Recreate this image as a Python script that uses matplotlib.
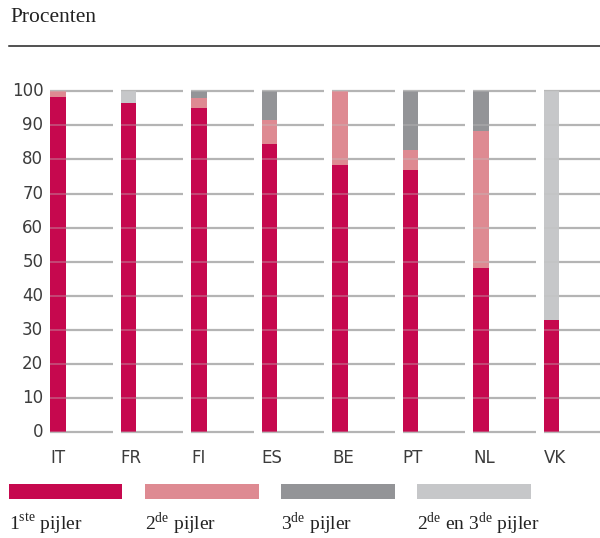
import matplotlib
matplotlib.use("Agg")
import matplotlib.pyplot as plt
from matplotlib.patches import Rectangle
import numpy as np

plt.rcParams['mathtext.fontset'] = 'custom'
plt.rcParams['mathtext.rm'] = 'Liberation Serif'

countries = ["IT", "FR", "FI", "ES", "BE", "PT", "NL", "VK"]
pijler1 = [98.3, 96.6, 95.1, 84.5, 78.3, 76.9, 48.1, 32.8]
pijler2 = [1.7, 0.0, 2.9, 7.1, 21.7, 5.8, 40.2, 0.0]
pijler3 = [0.0, 0.0, 2.0, 8.4, 0.0, 17.3, 11.7, 0.0]
pijler23 = [0.0, 3.4, 0.0, 0.0, 0.0, 0.0, 0.0, 67.2]
yticks = [0, 10, 20, 30, 40, 50, 60, 70, 80, 90, 100]

labels = ["1$^{\\rm ste}$ pijler", "2$^{\\rm de}$ pijler", "3$^{\\rm de}$ pijler",
          "2$^{\\rm de}$ en 3$^{\\rm de}$ pijler"]
colors = ["#c6084e", "#de8a92", "#939497", "#c6c7c9"]

fig = plt.figure(figsize=(6, 5.38), dpi=100)
ax = fig.add_axes([50.3 / 600, 106 / 538, 549.7 / 600, 340.7 / 538])

x = np.arange(len(countries))
w = 0.223
bottom = np.zeros(len(countries))
for vals, c in zip([pijler1, pijler2, pijler3, pijler23], colors):
    ax.bar(x, vals, width=w, bottom=bottom, align='edge', color=c, linewidth=0, zorder=2)
    bottom += np.array(vals)

# segmented gridlines, one piece per category; faint trace over the bars
for t in yticks:
    ax.hlines([t] * len(x), x, x + 0.89, color='#b4b4b4', linewidth=1.6,
              zorder=1, clip_on=False)
    ax.hlines([t] * len(x), x, x + w, color='#c0c0c0', alpha=0.35, linewidth=1.4,
              zorder=3, clip_on=False)

ax.set_xlim(0, 7.80)
ax.set_ylim(0, 100)
ax.axis('off')

for t in yticks:
    ax.text(-7 / 70.45, t, str(t), ha='right', va='center', fontsize=12,
            family='DejaVu Sans', color='#3c3c3c')
for i, c in enumerate(countries):
    ax.text(i, -7.6, c, ha='left', va='center', fontsize=12,
            family='DejaVu Sans', color='#3c3c3c')

fig.text(10 / 600, 1 - 17 / 538, "Procenten", ha='left', va='center',
         fontsize=15.5, family='Liberation Serif', color='#222222')
fig.add_artist(plt.Line2D([9 / 600, 1], [1 - 46 / 538] * 2, color='#222222', linewidth=1.1))

for i, (lab, c) in enumerate(zip(labels, colors)):
    x0 = (9 + 136 * i) / 600
    fig.add_artist(Rectangle((x0, 1 - 499 / 538), 113.5 / 600, 15 / 538,
                             transform=fig.transFigure, color=c, linewidth=0))
    fig.text(x0, 1 - 524 / 538, lab, ha='left', va='center', fontsize=14,
             family='Liberation Serif', color='#222222')

fig.savefig("out.png", dpi=100)
